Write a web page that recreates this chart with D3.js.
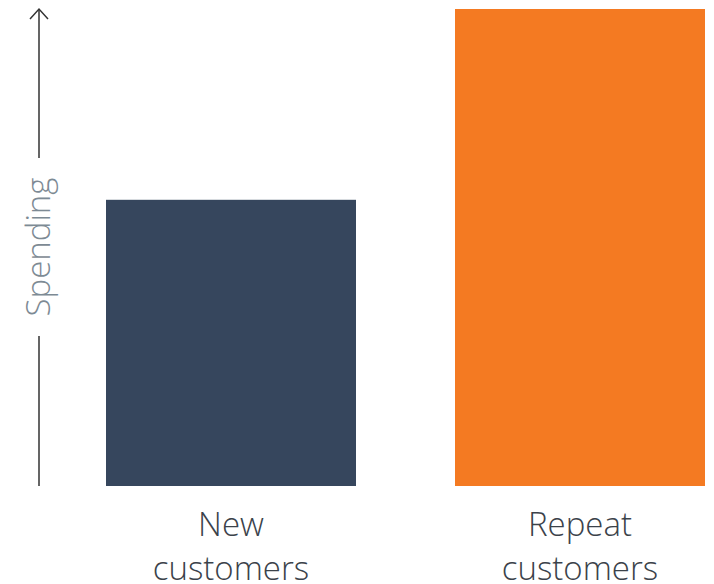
<!DOCTYPE html>
<html lang="en">
<head>
    <meta charset="UTF-8">
    <title>Spending: new vs repeat customers</title>
    <script src="https://d3js.org/d3.v7.min.js"></script>
    <style>
        body { margin: 0; background: #fff; }
        .cat-label { font-family: "Open Sans", sans-serif; font-weight: 300; font-size: 33px; fill: #3b424a; }
        .axis-label { font-family: "Open Sans", sans-serif; font-weight: 300; font-size: 33px; fill: #7d8a94; }
        .axis-line { stroke: #333; stroke-width: 1.5px; fill: none; }
    </style>
</head>
<body>
    <div id="chart"></div>
    <script>
    const categories = ["New customers", "Repeat customers"];
    const spending = [60, 100];
    const barColors = ["#36465d", "#f47a22"];
    const axisTitle = "Spending";

    const width = 714, height = 584;
    const svg = d3.select("#chart").append("svg")
        .attr("width", width)
        .attr("height", height);

    const x = d3.scaleBand()
        .domain(categories)
        .range([106, 705])
        .paddingInner(0.2837)
        .paddingOuter(0);

    const y = d3.scaleLinear()
        .domain([0, 100])
        .range([486, 9]);

    // bars
    svg.append("g")
        .selectAll("rect")
        .data(categories)
        .enter().append("rect")
        .attr("x", d => x(d))
        .attr("y", (d, i) => y(spending[i]))
        .attr("width", x.bandwidth())
        .attr("height", (d, i) => y(0) - y(spending[i]))
        .attr("fill", (d, i) => barColors[i]);

    // category labels, two lines each
    svg.append("g")
        .selectAll("text")
        .data(categories)
        .enter().append("text")
        .attr("class", "cat-label")
        .attr("text-anchor", "middle")
        .each(function (d) {
            const t = d3.select(this);
            d.split(" ").forEach((word, i) => {
                t.append("tspan")
                    .attr("x", x(d) + x.bandwidth() / 2)
                    .attr("y", 536 + i * 44)
                    .text(word);
            });
        });

    // y axis arrow, broken around its title
    const axisX = 39;
    const gapTop = 158, gapBottom = 336;
    svg.append("path")
        .attr("class", "axis-line")
        .attr("d", `M${axisX},${y(0)}V${gapBottom}M${axisX},${gapTop}V${y(100)}`);
    svg.append("path")
        .attr("class", "axis-line")
        .attr("d", `M${axisX - 9},${y(100) + 10}L${axisX},${y(100)}L${axisX + 9},${y(100) + 10}`);

    svg.append("text")
        .attr("class", "axis-label")
        .attr("text-anchor", "middle")
        .attr("transform", `translate(${axisX + 11},${(gapTop + gapBottom) / 2}) rotate(-90)`)
        .text(axisTitle);
    </script>
</body>
</html>
